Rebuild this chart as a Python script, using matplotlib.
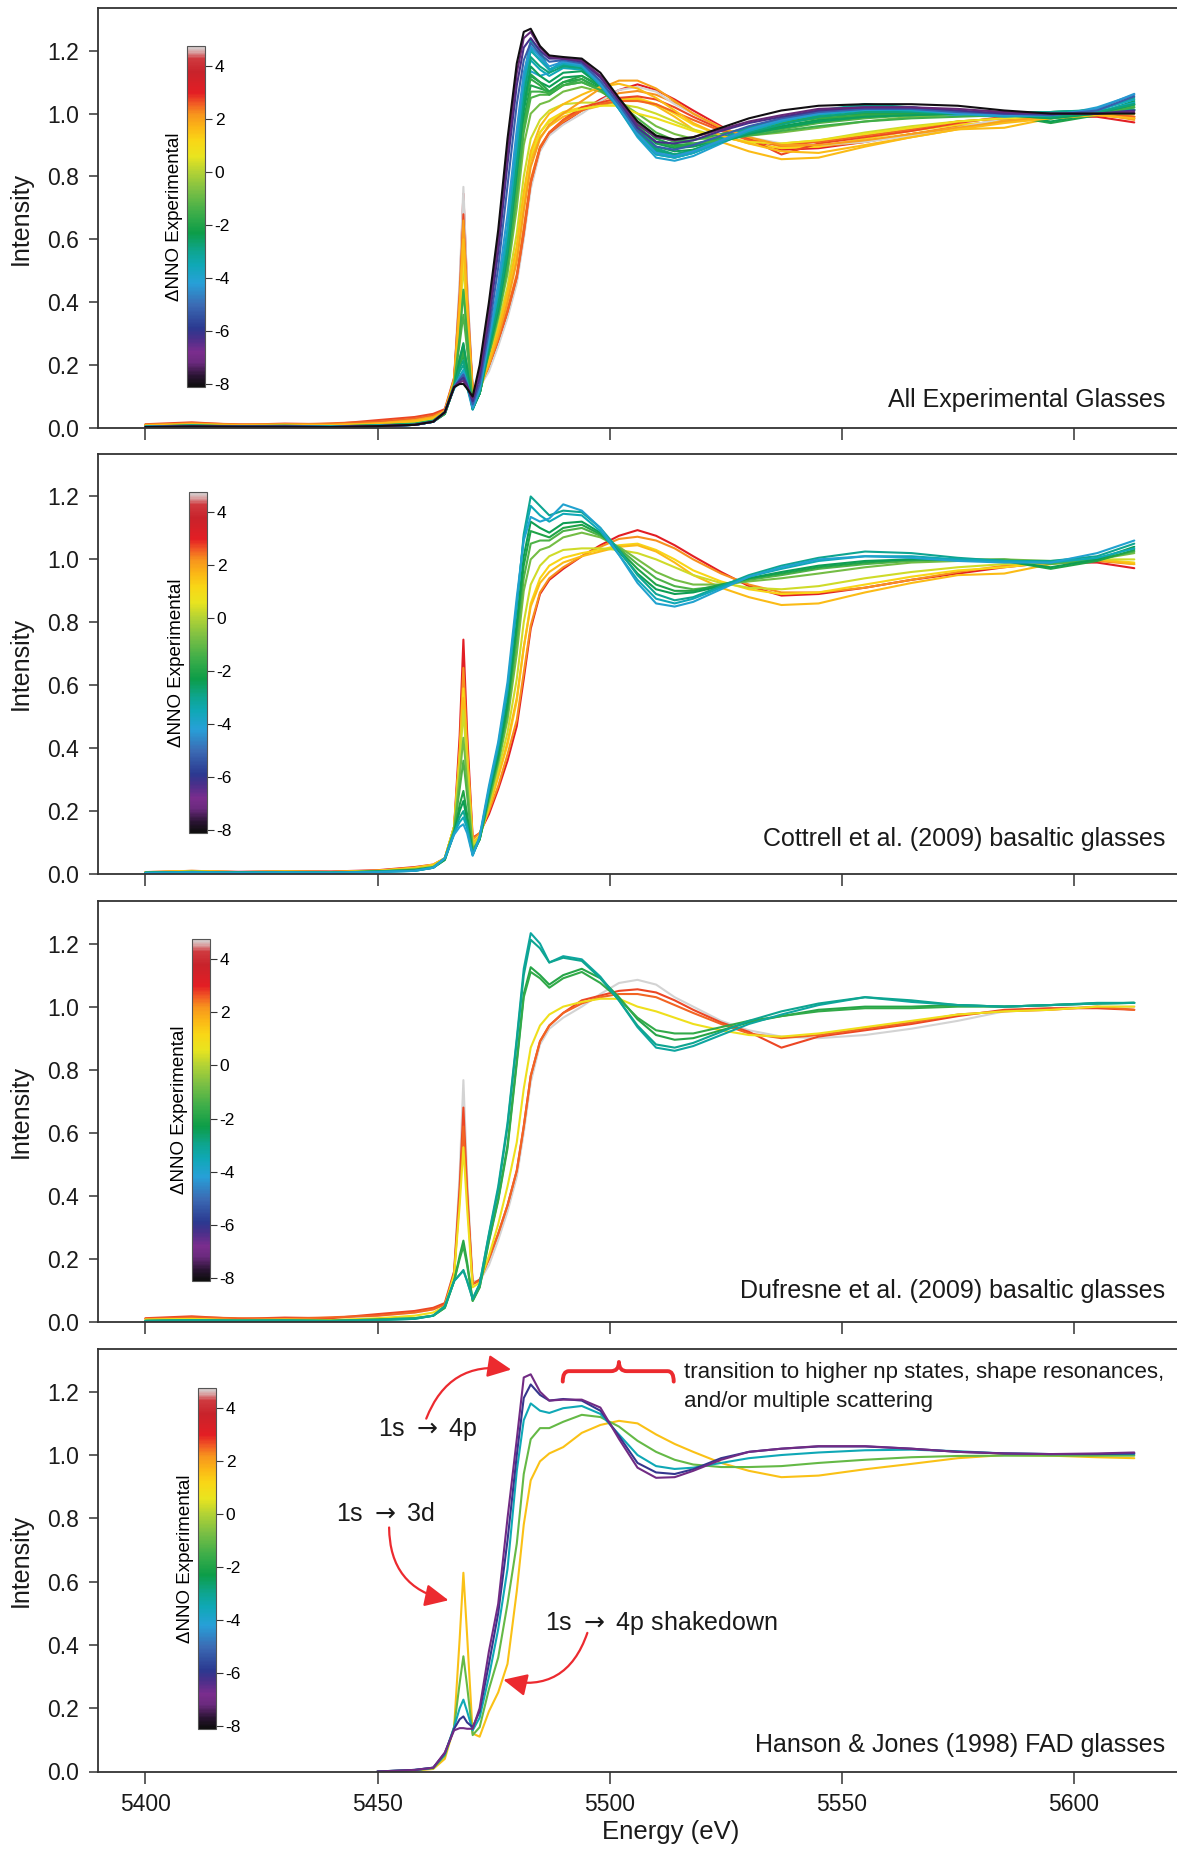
import numpy as np
import matplotlib
matplotlib.use('Agg')
import matplotlib.pyplot as plt
from matplotlib.colors import LinearSegmentedColormap, Normalize
from matplotlib.path import Path
from matplotlib.patches import PathPatch
from matplotlib.cm import ScalarMappable
from matplotlib.ticker import FormatStrFormatter

plt.rcParams['font.family'] = ['Liberation Sans', 'DejaVu Sans']
plt.rcParams['axes.unicode_minus'] = False
plt.rcParams['mathtext.fontset'] = 'dejavusans'

nan = float('nan')

# ---------------- data ----------------
energy = [5400, 5410, 5420, 5430, 5440, 5450, 5458, 5462, 5464.5, 5466.5,
          5467.7, 5468.5, 5469.3, 5470.5, 5472, 5474, 5476, 5478, 5480, 5481.5,
          5483, 5485, 5487, 5490, 5494, 5498, 5502, 5506, 5510, 5514,
          5518, 5524, 5530, 5537, 5545, 5555, 5565, 5575, 5585, 5595,
          5605, 5613]

# Cottrell et al. (2009) basaltic glasses
cottrell_dnno = [3.0, 2.2, 1.2, 1.6, 0.3, -0.8, -1.3, -2.0, -2.4, -3.0, -3.5, -4.0]
cottrell_intensity = [
    [0.006, 0.010, 0.007, 0.009, 0.008, 0.012, 0.022, 0.030, 0.050, 0.150,
     0.440, 0.745, 0.450, 0.115, 0.130, 0.190, 0.270, 0.360, 0.470, 0.620,
     0.780, 0.890, 0.935, 0.970, 1.010, 1.045, 1.075, 1.093, 1.075, 1.045,
     1.010, 0.960, 0.915, 0.885, 0.890, 0.910, 0.935, 0.955, 0.975, 0.990,
     0.990, 0.972],
    [0.005, 0.009, 0.006, 0.008, 0.007, 0.011, 0.020, 0.028, 0.050, 0.150,
     0.400, 0.655, 0.410, 0.110, 0.130, 0.200, 0.280, 0.380, 0.490, 0.640,
     0.790, 0.895, 0.940, 0.975, 1.010, 1.040, 1.065, 1.072, 1.060, 1.035,
     1.000, 0.955, 0.920, 0.895, 0.895, 0.910, 0.935, 0.960, 0.980, 0.990,
     0.995, 0.985],
    [0.006, 0.010, 0.006, 0.008, 0.006, 0.010, 0.020, 0.030, 0.050, 0.150,
     0.380, 0.590, 0.380, 0.100, 0.120, 0.210, 0.310, 0.410, 0.550, 0.720,
     0.860, 0.940, 0.980, 1.005, 1.020, 1.030, 1.045, 1.050, 1.030, 1.000,
     0.965, 0.930, 0.905, 0.890, 0.895, 0.920, 0.945, 0.965, 0.975, 0.990,
     1.000, 0.990],
    [0.005, 0.008, 0.006, 0.007, 0.006, 0.010, 0.018, 0.028, 0.050, 0.150,
     0.370, 0.560, 0.370, 0.100, 0.120, 0.210, 0.310, 0.420, 0.560, 0.720,
     0.850, 0.925, 0.960, 0.990, 1.010, 1.025, 1.040, 1.045, 1.025, 0.990,
     0.950, 0.910, 0.880, 0.855, 0.860, 0.895, 0.925, 0.950, 0.955, 0.985,
     1.000, 0.985],
    [0.004, 0.007, 0.005, 0.007, 0.005, 0.009, 0.016, 0.025, 0.050, 0.150,
     0.350, 0.520, 0.340, 0.090, 0.120, 0.220, 0.330, 0.450, 0.620, 0.800,
     0.920, 0.980, 1.010, 1.030, 1.035, 1.035, 1.030, 1.020, 1.000, 0.975,
     0.950, 0.925, 0.910, 0.905, 0.915, 0.940, 0.960, 0.975, 0.985, 0.990,
     1.000, 1.000],
    [0.004, 0.006, 0.005, 0.006, 0.005, 0.008, 0.015, 0.022, 0.050, 0.140,
     0.310, 0.433, 0.290, 0.080, 0.110, 0.230, 0.350, 0.490, 0.700, 0.900,
     1.000, 1.030, 1.040, 1.070, 1.085, 1.070, 1.040, 1.000, 0.960, 0.935,
     0.920, 0.920, 0.930, 0.940, 0.955, 0.975, 0.990, 0.995, 1.000, 0.995,
     1.000, 1.020],
    [0.004, 0.007, 0.005, 0.006, 0.005, 0.008, 0.014, 0.022, 0.048, 0.140,
     0.270, 0.360, 0.250, 0.075, 0.110, 0.240, 0.360, 0.510, 0.740, 0.940,
     1.050, 1.060, 1.060, 1.090, 1.100, 1.075, 1.035, 0.985, 0.940, 0.915,
     0.905, 0.915, 0.935, 0.950, 0.970, 0.985, 0.995, 1.000, 1.000, 0.985,
     1.000, 1.025],
    [0.004, 0.007, 0.005, 0.006, 0.004, 0.008, 0.012, 0.020, 0.045, 0.130,
     0.220, 0.264, 0.190, 0.065, 0.110, 0.250, 0.370, 0.530, 0.780, 0.980,
     1.090, 1.080, 1.070, 1.100, 1.110, 1.080, 1.030, 0.970, 0.920, 0.900,
     0.900, 0.920, 0.940, 0.955, 0.975, 0.990, 1.000, 1.000, 0.995, 0.970,
     0.995, 1.030],
    [0.004, 0.006, 0.005, 0.006, 0.004, 0.008, 0.012, 0.020, 0.045, 0.130,
     0.200, 0.232, 0.170, 0.062, 0.110, 0.255, 0.380, 0.550, 0.800, 1.010,
     1.120, 1.100, 1.085, 1.115, 1.120, 1.085, 1.025, 0.955, 0.905, 0.890,
     0.895, 0.915, 0.940, 0.960, 0.980, 0.995, 1.000, 1.000, 0.995, 0.975,
     1.000, 1.040],
    [0.004, 0.006, 0.004, 0.005, 0.004, 0.007, 0.010, 0.020, 0.050, 0.130,
     0.180, 0.200, 0.155, 0.062, 0.115, 0.265, 0.400, 0.580, 0.850, 1.080,
     1.200, 1.170, 1.140, 1.155, 1.150, 1.100, 1.030, 0.950, 0.890, 0.870,
     0.880, 0.915, 0.950, 0.980, 1.005, 1.025, 1.020, 1.005, 0.995, 0.995,
     1.010, 1.050],
    [0.004, 0.006, 0.004, 0.005, 0.004, 0.007, 0.010, 0.020, 0.050, 0.130,
     0.165, 0.180, 0.145, 0.060, 0.115, 0.270, 0.410, 0.590, 0.860, 1.070,
     1.170, 1.140, 1.120, 1.145, 1.140, 1.090, 1.015, 0.935, 0.875, 0.860,
     0.875, 0.910, 0.945, 0.970, 0.995, 1.010, 1.010, 1.000, 0.995, 0.990,
     1.005, 1.035],
    [0.003, 0.005, 0.004, 0.005, 0.004, 0.006, 0.010, 0.020, 0.050, 0.125,
     0.150, 0.158, 0.130, 0.058, 0.120, 0.280, 0.420, 0.610, 0.880, 1.060,
     1.135, 1.120, 1.130, 1.175, 1.155, 1.100, 1.015, 0.925, 0.860, 0.850,
     0.865, 0.905, 0.945, 0.975, 1.000, 1.010, 1.005, 0.995, 0.990, 0.990,
     1.020, 1.060],
]

# Dufresne et al. (2009) basaltic glasses
dufresne_dnno = [4.75, 2.7, 2.5, 0.8, -1.9, -1.7, -3.2, -3.0]
dufresne_intensity = [
    [0.010, 0.012, 0.008, 0.010, 0.012, 0.020, 0.030, 0.040, 0.060, 0.160,
     0.470, 0.767, 0.460, 0.130, 0.130, 0.180, 0.260, 0.350, 0.460, 0.600,
     0.760, 0.880, 0.930, 0.965, 1.000, 1.040, 1.075, 1.085, 1.070, 1.030,
     1.000, 0.955, 0.925, 0.905, 0.900, 0.910, 0.930, 0.955, 0.985, 0.995,
     1.000, 1.000],
    [0.012, 0.018, 0.010, 0.014, 0.012, 0.025, 0.035, 0.045, 0.060, 0.160,
     0.430, 0.680, 0.420, 0.120, 0.135, 0.200, 0.280, 0.370, 0.480, 0.620,
     0.780, 0.890, 0.940, 0.980, 1.020, 1.035, 1.050, 1.055, 1.045, 1.020,
     0.990, 0.950, 0.920, 0.870, 0.905, 0.925, 0.945, 0.970, 0.990, 0.995,
     0.995, 0.990],
    [0.010, 0.015, 0.012, 0.010, 0.015, 0.020, 0.030, 0.040, 0.055, 0.150,
     0.400, 0.620, 0.400, 0.120, 0.130, 0.200, 0.280, 0.370, 0.480, 0.620,
     0.780, 0.890, 0.940, 0.980, 1.010, 1.030, 1.040, 1.040, 1.030, 1.005,
     0.980, 0.945, 0.915, 0.900, 0.910, 0.930, 0.950, 0.975, 0.985, 0.990,
     1.000, 0.990],
    [0.008, 0.010, 0.006, 0.008, 0.006, 0.012, 0.020, 0.030, 0.050, 0.150,
     0.370, 0.554, 0.360, 0.110, 0.125, 0.210, 0.310, 0.430, 0.570, 0.740,
     0.870, 0.940, 0.975, 1.000, 1.015, 1.025, 1.025, 1.000, 0.985, 0.965,
     0.945, 0.925, 0.910, 0.905, 0.915, 0.935, 0.955, 0.975, 0.985, 0.990,
     1.000, 1.000],
    [0.003, 0.006, 0.004, 0.005, 0.004, 0.008, 0.012, 0.020, 0.045, 0.130,
     0.210, 0.258, 0.190, 0.067, 0.110, 0.260, 0.390, 0.560, 0.830, 1.040,
     1.125, 1.100, 1.070, 1.100, 1.120, 1.090, 1.030, 0.960, 0.910, 0.895,
     0.900, 0.925, 0.950, 0.970, 0.990, 1.000, 1.000, 1.005, 1.000, 1.005,
     1.010, 1.012],
    [0.004, 0.006, 0.005, 0.005, 0.004, 0.008, 0.012, 0.020, 0.045, 0.130,
     0.200, 0.240, 0.180, 0.067, 0.110, 0.255, 0.385, 0.550, 0.820, 1.030,
     1.110, 1.090, 1.060, 1.090, 1.110, 1.075, 1.025, 0.965, 0.925, 0.915,
     0.915, 0.935, 0.955, 0.970, 0.985, 0.995, 0.995, 1.000, 1.000, 1.005,
     1.010, 1.012],
    [0.003, 0.005, 0.004, 0.004, 0.003, 0.006, 0.010, 0.020, 0.050, 0.130,
     0.150, 0.162, 0.130, 0.075, 0.120, 0.280, 0.430, 0.630, 0.900, 1.120,
     1.233, 1.200, 1.140, 1.160, 1.150, 1.095, 1.020, 0.935, 0.870, 0.860,
     0.875, 0.910, 0.945, 0.975, 1.005, 1.030, 1.015, 1.005, 1.000, 1.005,
     1.010, 1.012],
    [0.004, 0.005, 0.004, 0.005, 0.003, 0.006, 0.010, 0.020, 0.050, 0.130,
     0.150, 0.165, 0.130, 0.072, 0.120, 0.275, 0.420, 0.620, 0.890, 1.100,
     1.212, 1.185, 1.140, 1.155, 1.145, 1.090, 1.020, 0.940, 0.880, 0.870,
     0.885, 0.920, 0.955, 0.985, 1.010, 1.030, 1.020, 1.005, 1.000, 1.005,
     1.012, 1.012],
]

# additional experimental glasses (only in the top panel)
other_dnno = [2.0, 1.6, -1.5, -2.5, -2.8, -3.6, -4.3, -5.2, -6.2, -7.2, -8.0]
other_intensity = [
    [0.010, 0.014, 0.010, 0.012, 0.010, 0.015, 0.025, 0.035, 0.055, 0.155,
     0.410, 0.660, 0.410, 0.110, 0.125, 0.200, 0.290, 0.400, 0.530, 0.690,
     0.830, 0.920, 0.965, 1.000, 1.040, 1.080, 1.105, 1.105, 1.080, 1.040,
     1.000, 0.955, 0.925, 0.900, 0.900, 0.915, 0.935, 0.955, 0.975, 0.990,
     1.000, 0.980],
    [0.008, 0.012, 0.008, 0.010, 0.010, 0.014, 0.022, 0.032, 0.050, 0.150,
     0.380, 0.600, 0.390, 0.100, 0.120, 0.210, 0.310, 0.430, 0.580, 0.750,
     0.880, 0.960, 1.000, 1.030, 1.060, 1.085, 1.095, 1.080, 1.050, 1.010,
     0.970, 0.930, 0.905, 0.880, 0.875, 0.900, 0.925, 0.950, 0.970, 0.985,
     0.995, 0.985],
    [0.005, 0.008, 0.006, 0.007, 0.005, 0.009, 0.014, 0.024, 0.050, 0.140,
     0.290, 0.440, 0.300, 0.075, 0.110, 0.240, 0.360, 0.520, 0.760, 0.960,
     1.070, 1.070, 1.065, 1.090, 1.100, 1.075, 1.030, 0.975, 0.930, 0.910,
     0.905, 0.915, 0.930, 0.945, 0.960, 0.975, 0.985, 0.990, 0.995, 0.985,
     1.000, 1.020],
    [0.005, 0.008, 0.005, 0.007, 0.005, 0.008, 0.012, 0.022, 0.048, 0.130,
     0.220, 0.270, 0.190, 0.060, 0.110, 0.250, 0.375, 0.550, 0.810, 1.020,
     1.150, 1.120, 1.100, 1.130, 1.135, 1.090, 1.025, 0.950, 0.895, 0.880,
     0.885, 0.910, 0.935, 0.955, 0.975, 0.990, 0.995, 1.000, 0.995, 0.985,
     1.000, 1.030],
    [0.004, 0.008, 0.005, 0.006, 0.005, 0.008, 0.012, 0.022, 0.050, 0.130,
     0.190, 0.215, 0.160, 0.060, 0.110, 0.260, 0.390, 0.570, 0.840, 1.060,
     1.180, 1.150, 1.130, 1.150, 1.145, 1.095, 1.025, 0.945, 0.885, 0.870,
     0.880, 0.910, 0.940, 0.965, 0.990, 1.005, 1.005, 1.000, 0.995, 0.990,
     1.005, 1.030],
    [0.004, 0.007, 0.004, 0.005, 0.004, 0.007, 0.010, 0.020, 0.050, 0.130,
     0.165, 0.185, 0.145, 0.062, 0.120, 0.275, 0.430, 0.630, 0.900, 1.100,
     1.205, 1.170, 1.140, 1.160, 1.150, 1.090, 1.015, 0.930, 0.870, 0.860,
     0.875, 0.910, 0.945, 0.975, 1.000, 1.015, 1.010, 1.000, 0.990, 0.995,
     1.010, 1.045],
    [0.004, 0.006, 0.004, 0.006, 0.004, 0.007, 0.010, 0.020, 0.050, 0.130,
     0.160, 0.175, 0.140, 0.065, 0.125, 0.285, 0.460, 0.680, 0.950, 1.130,
     1.215, 1.180, 1.150, 1.165, 1.155, 1.095, 1.020, 0.935, 0.875, 0.865,
     0.880, 0.915, 0.950, 0.980, 1.000, 1.020, 1.015, 1.000, 0.995, 0.995,
     1.015, 1.063],
    [0.003, 0.005, 0.004, 0.005, 0.003, 0.006, 0.010, 0.020, 0.050, 0.130,
     0.155, 0.170, 0.140, 0.075, 0.140, 0.310, 0.510, 0.770, 1.030, 1.170,
     1.225, 1.190, 1.165, 1.170, 1.160, 1.105, 1.030, 0.945, 0.895, 0.885,
     0.900, 0.930, 0.960, 0.985, 1.005, 1.015, 1.015, 1.005, 1.000, 0.995,
     1.010, 1.055],
    [0.003, 0.005, 0.004, 0.004, 0.003, 0.006, 0.010, 0.020, 0.050, 0.130,
     0.150, 0.160, 0.135, 0.085, 0.160, 0.340, 0.560, 0.840, 1.090, 1.210,
     1.240, 1.200, 1.175, 1.175, 1.165, 1.115, 1.040, 0.955, 0.910, 0.905,
     0.915, 0.945, 0.970, 0.990, 1.010, 1.020, 1.020, 1.010, 1.000, 1.000,
     1.000, 1.010],
    [0.003, 0.005, 0.004, 0.004, 0.003, 0.006, 0.010, 0.020, 0.050, 0.130,
     0.145, 0.150, 0.130, 0.095, 0.180, 0.370, 0.600, 0.880, 1.130, 1.240,
     1.260, 1.210, 1.180, 1.175, 1.170, 1.120, 1.045, 0.965, 0.925, 0.915,
     0.925, 0.950, 0.975, 0.995, 1.015, 1.020, 1.020, 1.015, 1.005, 1.000,
     1.000, 1.005],
    [0.003, 0.005, 0.004, 0.004, 0.003, 0.006, 0.010, 0.020, 0.050, 0.130,
     0.140, 0.140, 0.125, 0.100, 0.200, 0.400, 0.630, 0.920, 1.160, 1.260,
     1.270, 1.215, 1.185, 1.180, 1.175, 1.130, 1.050, 0.975, 0.930, 0.918,
     0.925, 0.955, 0.985, 1.010, 1.025, 1.030, 1.030, 1.025, 1.010, 1.000,
     1.000, 1.000],
]

# Hanson & Jones (1998) FAD glasses
hanson_dnno = [1.5, -1.0, -3.5, -6.0, -7.0]
hanson_intensity = [
    [nan, nan, nan, nan, nan, 0.000, 0.003, 0.008, 0.040, 0.140,
     0.420, 0.628, 0.430, 0.120, 0.110, 0.190, 0.250, 0.340, 0.570, 0.780,
     0.920, 0.980, 1.005, 1.025, 1.070, 1.095, 1.108, 1.100, 1.065, 1.035,
     1.010, 0.975, 0.950, 0.930, 0.935, 0.955, 0.972, 0.990, 1.000, 0.998,
     0.993, 0.990],
    [nan, nan, nan, nan, nan, 0.000, 0.004, 0.010, 0.050, 0.140,
     0.280, 0.364, 0.270, 0.115, 0.140, 0.260, 0.360, 0.530, 0.720, 0.940,
     1.050, 1.085, 1.085, 1.105, 1.127, 1.120, 1.090, 1.045, 1.010, 0.985,
     0.970, 0.962, 0.962, 0.965, 0.975, 0.985, 0.993, 0.997, 0.998, 0.998,
     0.998, 0.998],
    [nan, nan, nan, nan, nan, 0.000, 0.005, 0.012, 0.055, 0.140,
     0.200, 0.227, 0.190, 0.130, 0.170, 0.300, 0.450, 0.640, 0.950, 1.110,
     1.163, 1.140, 1.133, 1.148, 1.155, 1.130, 1.065, 1.000, 0.965, 0.956,
     0.960, 0.975, 0.990, 1.000, 1.008, 1.015, 1.017, 1.012, 1.005, 1.003,
     1.003, 1.003],
    [nan, nan, nan, nan, nan, 0.000, 0.005, 0.012, 0.058, 0.135,
     0.165, 0.174, 0.155, 0.140, 0.190, 0.340, 0.500, 0.730, 1.000, 1.180,
     1.223, 1.190, 1.172, 1.177, 1.172, 1.140, 1.060, 0.975, 0.945, 0.940,
     0.955, 0.990, 1.010, 1.020, 1.027, 1.027, 1.020, 1.010, 1.005, 1.003,
     1.003, 1.005],
    [nan, nan, nan, nan, nan, 0.000, 0.005, 0.012, 0.060, 0.130,
     0.137, 0.137, 0.135, 0.135, 0.200, 0.380, 0.530, 0.800, 1.050, 1.245,
     1.255, 1.200, 1.172, 1.175, 1.175, 1.150, 1.051, 0.960, 0.928, 0.930,
     0.950, 0.985, 1.010, 1.020, 1.028, 1.028, 1.020, 1.010, 1.005, 1.003,
     1.005, 1.008],
]

panel_titles = ["All Experimental Glasses",
                "Cottrell et al. (2009) basaltic glasses",
                "Dufresne et al. (2009) basaltic glasses",
                "Hanson & Jones (1998) FAD glasses"]

x_ticks = [5400, 5450, 5500, 5550, 5600]
y_ticks = [0.0, 0.2, 0.4, 0.6, 0.8, 1.0, 1.2]
cbar_ticks = [-8, -6, -4, -2, 0, 2, 4]

cmap_values = [-8.1, -7.7, -7.2, -6.8, -6.3, -5.9, -5.0, -4.2, -3.5, -3.0, -2.3, -1.5,
               -0.7, 0.0, 0.6, 1.2, 1.7, 2.2, 2.6, 3.0, 3.8, 4.3, 4.55, 4.75]
cmap_colors = ['#0d0d0d', '#2a1433', '#6b2a7e', '#7b2d8e', '#4a2f8a', '#2b3990',
               '#3b6cb5', '#27a0d8', '#0fa8b5', '#0ea590', '#0d9d48', '#3fae49',
               '#7bbf44', '#b2d235', '#e9e41f', '#f9d616', '#fbb616', '#f7941d',
               '#f15a24', '#e31e24', '#c8232b', '#cf3a3f', '#d9a3a3', '#d3d3d3']

# ---------------- figure ----------------
W, H = 1177, 1850
fig = plt.figure(figsize=(W / 100, H / 100), dpi=100)

vmin, vmax = cmap_values[0], cmap_values[-1]
norm = Normalize(vmin=vmin, vmax=vmax)
cmap = LinearSegmentedColormap.from_list(
    'dnno', [((v - vmin) / (vmax - vmin), c) for v, c in zip(cmap_values, cmap_colors)])

panel_px = [(8.3, 428.0), (454.0, 874.0), (901.0, 1322.0), (1349.0, 1771.5)]
title_y = [0.051, 0.067, 0.058, 0.047]
cbar_px = [(187, 46, 387), (189, 492, 833), (192, 939, 1281), (198, 1388, 1729)]
left_px = 98

groups = [
    [(cottrell_dnno, cottrell_intensity), (dufresne_dnno, dufresne_intensity),
     (other_dnno, other_intensity)],
    [(cottrell_dnno, cottrell_intensity)],
    [(dufresne_dnno, dufresne_intensity)],
    [(hanson_dnno, hanson_intensity)],
]

axes = []
for i, (top, bot) in enumerate(panel_px):
    ax = fig.add_axes([left_px / W, 1 - bot / H, 1 - left_px / W, (bot - top) / H])
    axes.append(ax)
    for dn, ints in groups[i]:
        for d, vals in zip(dn, ints):
            assert len(vals) == len(energy)
            ax.plot(energy, vals, color=cmap(norm(d)), lw=1.5,
                    solid_joinstyle='round', solid_capstyle='round')
    ax.set_xlim(5389.8, 5622.2)
    ax.set_ylim(0, 1.335)
    ax.set_xticks(x_ticks)
    ax.set_yticks(y_ticks)
    ax.yaxis.set_major_formatter(FormatStrFormatter('%.1f'))
    for s in ['left', 'top', 'bottom']:
        ax.spines[s].set_linewidth(1.3)
        ax.spines[s].set_color('#333333')
    ax.spines['right'].set_visible(False)
    ax.tick_params(axis='both', direction='out', labelsize=16.5, width=1.1,
                   color='#333333', labelcolor='#1a1a1a')
    ax.tick_params(axis='y', length=6.5, pad=7)
    ax.tick_params(axis='x', length=8.5, pad=7)
    if i < 3:
        ax.tick_params(axis='x', labelbottom=False)
    ax.text(-0.0714, 0.5, 'Intensity', transform=ax.transAxes, rotation=90,
            ha='center', va='center', fontsize=18, color='#1a1a1a')
    ax.text(0.9892, title_y[i], panel_titles[i], transform=ax.transAxes,
            ha='right', va='baseline', fontsize=18, color='#1a1a1a')

    # colour bar
    cl, ct, cbt = cbar_px[i]
    cax = fig.add_axes([cl / W, 1 - cbt / H, 18 / W, (cbt - ct) / H])
    cb = fig.colorbar(ScalarMappable(norm=norm, cmap=cmap), cax=cax, ticks=cbar_ticks)
    cb.outline.set_linewidth(0.8)
    cb.outline.set_edgecolor('#555555')
    cax.yaxis.set_ticks_position('right')
    cax.tick_params(labelsize=12.5, length=5, width=0.8, pad=2, color='#333333')
    cax.set_ylabel('ΔNNO Experimental', fontsize=13.5, labelpad=3)
    cax.yaxis.set_label_position('left')

fig.text(0.570, 1 - 1831.6 / H, 'Energy (eV)', ha='center', va='center',
         fontsize=18.5, color='#1a1a1a')

# ---------------- annotations (bottom panel) ----------------
ax4 = axes[3]
red = '#ec2a2f'
txt_kw = dict(fontsize=18, color='#1a1a1a')
ax4.text(5460.8, 1.061, r'1s $\rightarrow$ 4p', ha='center', va='baseline', **txt_kw)
ax4.text(5451.8, 0.792, r'1s $\rightarrow$ 3d', ha='center', va='baseline', **txt_kw)
ax4.text(5486.0, 0.4485, r'1s $\rightarrow$ 4p shakedown', ha='left', va='baseline', **txt_kw)
ax4.text(5516.1, 1.244, 'transition to higher np states, shape resonances,',
         ha='left', va='baseline', fontsize=16, color='#1a1a1a')
ax4.text(5516.1, 1.151, 'and/or multiple scattering',
         ha='left', va='baseline', fontsize=16, color='#1a1a1a')

arrow_kw = dict(arrowstyle='-|>,head_length=0.8,head_width=0.38', color=red, lw=1.6,
                mutation_scale=18, shrinkA=0, shrinkB=0)
ax4.annotate('', xy=(5478.8, 1.270), xytext=(5460.5, 1.115),
             arrowprops=dict(connectionstyle='arc3,rad=-0.4', **arrow_kw))
ax4.annotate('', xy=(5465.3, 0.541), xytext=(5452.5, 0.771),
             arrowprops=dict(connectionstyle='arc3,rad=0.4', **arrow_kw))
ax4.annotate('', xy=(5477.1, 0.290), xytext=(5495.2, 0.438),
             arrowprops=dict(connectionstyle='arc3,rad=-0.45', **arrow_kw))

# curly brace
bl, bc, br = 5489.9, 5502.0, 5513.8
yb, yh, yt = 1.232, 1.265, 1.294
verts = [(bl, yb), (bl, yh), (bl + 1.3, yh), (bc - 1.7, yh), (bc, yh), (bc, yt),
         (bc, yh), (bc + 1.7, yh), (br - 1.3, yh), (br, yh), (br, yb)]
codes = [Path.MOVETO, Path.CURVE3, Path.CURVE3, Path.LINETO, Path.CURVE3, Path.CURVE3,
         Path.CURVE3, Path.CURVE3, Path.LINETO, Path.CURVE3, Path.CURVE3]
ax4.add_patch(PathPatch(Path(verts, codes), facecolor='none', edgecolor=red,
                        lw=2.8, capstyle='round', joinstyle='round'))

fig.savefig('out.png', dpi=100)
